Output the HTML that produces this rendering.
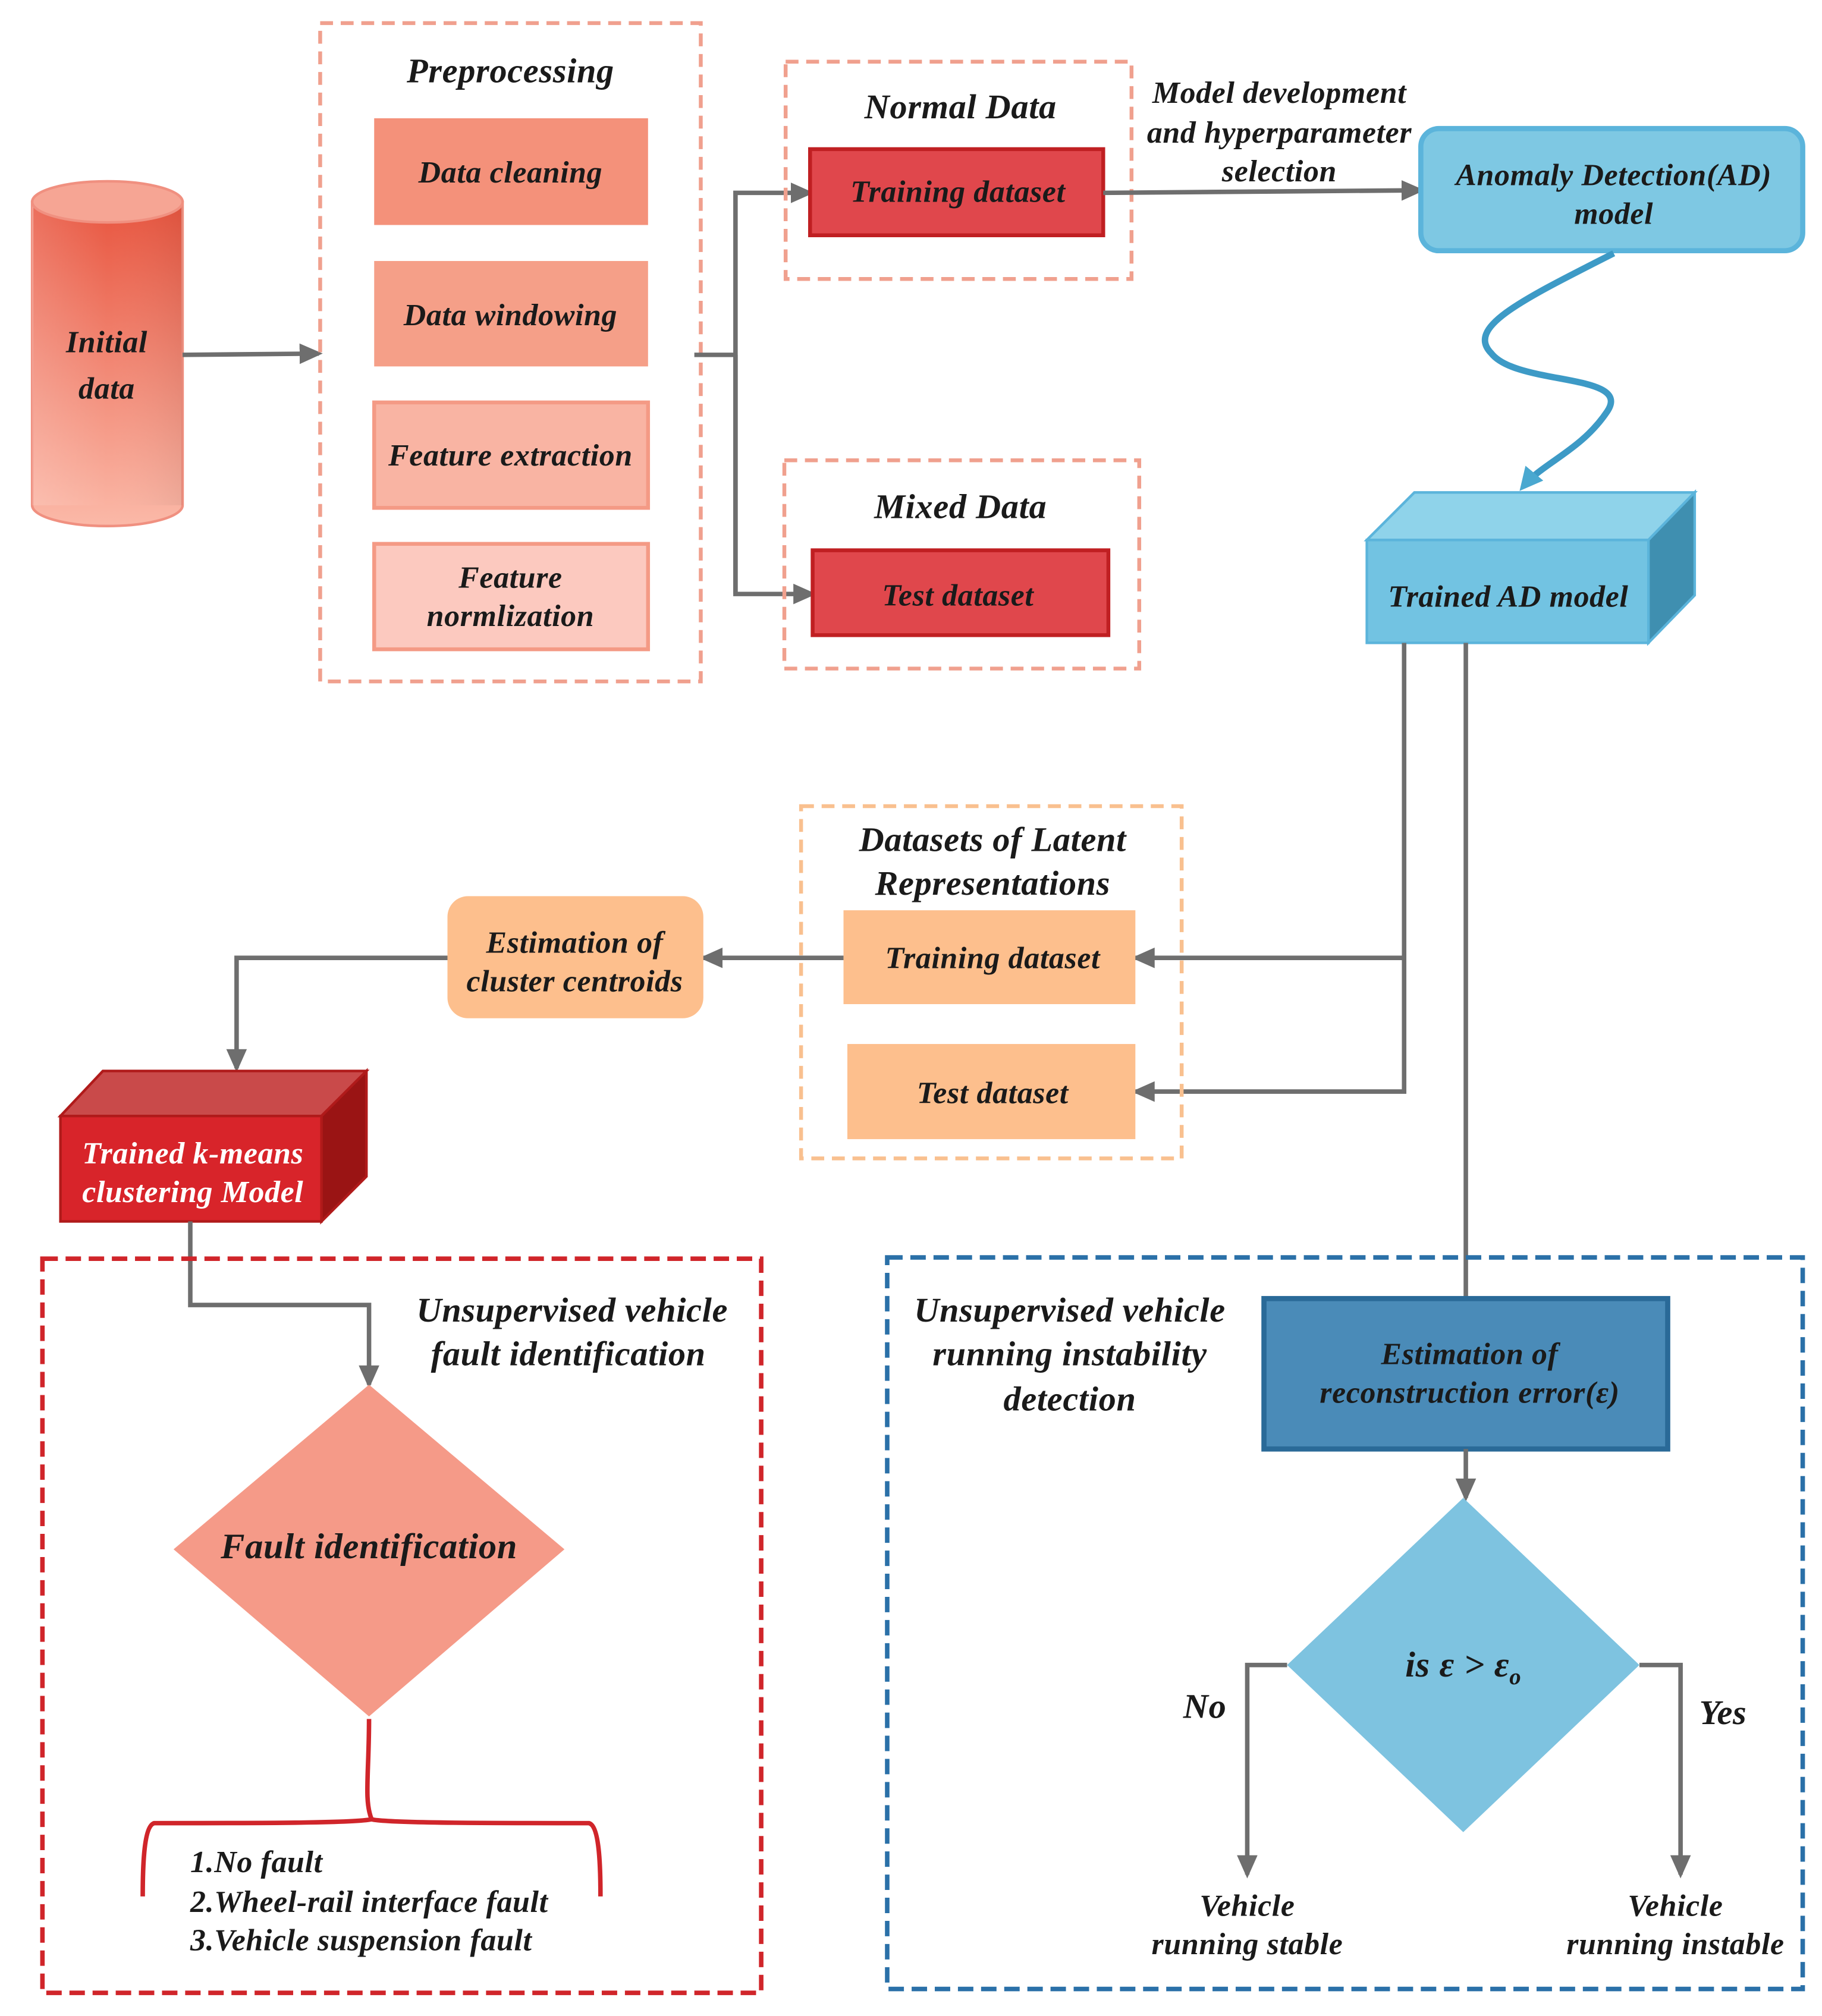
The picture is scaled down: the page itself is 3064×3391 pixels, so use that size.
<!DOCTYPE html>
<html><head><meta charset="utf-8"><style>
html,body{margin:0;padding:0;background:#fff;}
svg{display:block;}
text{font-family:"Liberation Serif",serif;font-weight:bold;font-style:italic;font-size:24px;fill:#1a1a1a;text-anchor:middle;letter-spacing:0.3px;}
</style></head><body>
<svg width="3064" height="3391" viewBox="0 0 1417 1568" preserveAspectRatio="none" xmlns="http://www.w3.org/2000/svg">
<defs>
<linearGradient id="cyl" x1="0" y1="0" x2="0" y2="1">
<stop offset="0" stop-color="#e8553f"/><stop offset="1" stop-color="#fbb9a8"/></linearGradient>
<linearGradient id="cylx" x1="0" y1="0" x2="1" y2="0">
<stop offset="0" stop-color="#fff" stop-opacity="0.15"/><stop offset="0.5" stop-color="#fff" stop-opacity="0"/><stop offset="1" stop-color="#000" stop-opacity="0.05"/></linearGradient>
<marker id="ar" markerWidth="18" markerHeight="16" refX="15" refY="8" orient="auto" markerUnits="userSpaceOnUse">
<path d="M0,0 L18,8 L0,16 z" fill="#6e6e6e"/></marker>
<marker id="arb" markerWidth="18" markerHeight="18" refX="13" refY="9" orient="auto" markerUnits="userSpaceOnUse">
<path d="M0,0 L18,9 L0,18 z" fill="#4aa8d0"/></marker>
</defs>

<path d="M25,157 L25,393 A58,16 0 0 0 142,393 L142,157 z" fill="url(#cyl)" stroke="#f09080" stroke-width="2"/>
<rect x="25" y="157" width="117" height="236" fill="url(#cylx)"/>
<ellipse cx="83.5" cy="157" rx="58.5" ry="16" fill="#f6a594" stroke="#f09080" stroke-width="2"/>
<text x="83" y="274">Initial</text><text x="83" y="310">data</text>
<line x1="142" y1="276" x2="248" y2="275" stroke="#6e6e6e" stroke-width="3.5" marker-end="url(#ar)"/>

<rect x="249" y="18" width="296" height="512" fill="none" stroke="#f0a08e" stroke-width="3" stroke-dasharray="10,6"/>
<text x="397" y="64" style="font-size:27px">Preprocessing</text>
<rect x="291" y="92" width="213" height="83" fill="#f4917a"/><text x="397" y="142">Data cleaning</text>
<rect x="291" y="203" width="213" height="82" fill="#f59f88"/><text x="397" y="253">Data windowing</text>
<rect x="291" y="313" width="213" height="82" fill="#f9b4a3" stroke="#f49a85" stroke-width="3"/><text x="397" y="362">Feature extraction</text>
<rect x="291" y="423" width="213" height="82" fill="#fcc9bf" stroke="#f49a85" stroke-width="3"/><text x="397" y="457">Feature</text><text x="397" y="487">normlization</text>

<path d="M540,276 L572,276" stroke="#6e6e6e" stroke-width="3.5" fill="none"/>
<path d="M572,462 L572,150 L630,150" stroke="#6e6e6e" stroke-width="3.5" fill="none" marker-end="url(#ar)"/>
<path d="M572,276 L572,462 L632,462" stroke="#6e6e6e" stroke-width="3.5" fill="none" marker-end="url(#ar)"/>

<rect x="611" y="48" width="269" height="169" fill="none" stroke="#f0a08e" stroke-width="3" stroke-dasharray="10,6"/>
<text x="747" y="92" style="font-size:27px">Normal Data</text>
<rect x="630" y="116" width="228" height="67" fill="#e0474c" stroke="#c01f22" stroke-width="3"/><text x="745" y="157">Training dataset</text>

<rect x="610" y="358" width="276" height="162" fill="none" stroke="#f0a08e" stroke-width="3" stroke-dasharray="10,6"/>
<text x="747" y="403" style="font-size:27px">Mixed Data</text>
<rect x="632" y="428" width="230" height="66" fill="#e0474c" stroke="#c01f22" stroke-width="3"/><text x="745" y="471">Test dataset</text>

<line x1="858" y1="150" x2="1105" y2="148" stroke="#6e6e6e" stroke-width="3.5" marker-end="url(#ar)"/>
<text x="995" y="80">Model development</text><text x="995" y="111">and hyperparameter</text><text x="995" y="141">selection</text>

<rect x="1105" y="100" width="297" height="95" rx="14" fill="#7ec8e3" stroke="#5bb4db" stroke-width="4"/>
<text x="1255" y="144">Anomaly Detection(AD)</text><text x="1255" y="174">model</text>

<path d="M1255,197 C1180,235 1140,255 1160,275 C1180,300 1270,290 1250,320 C1230,350 1200,360 1185,378" stroke="#3d9ac6" stroke-width="5" fill="none" marker-end="url(#arb)"/>

<polygon points="1063,420 1100,383 1318,383 1282,420" fill="#8fd3ea" stroke="#5bb4db" stroke-width="2"/>
<polygon points="1282,420 1318,383 1318,463 1282,500" fill="#3f8fb0" stroke="#5bb4db" stroke-width="2"/>
<rect x="1063" y="420" width="219" height="80" fill="#72c3e2" stroke="#5bb4db" stroke-width="2"/>
<text x="1173" y="472">Trained AD model</text>

<path d="M1092,500 L1092,849 L883,849" stroke="#6e6e6e" stroke-width="3.5" fill="none" marker-end="url(#ar)"/>
<path d="M1092,745 L883,745" stroke="#6e6e6e" stroke-width="3.5" fill="none" marker-end="url(#ar)"/>
<path d="M1140,500 L1140,1010" stroke="#6e6e6e" stroke-width="3.5" fill="none"/>

<rect x="623" y="627" width="296" height="274" fill="none" stroke="#f9c08f" stroke-width="3" stroke-dasharray="10,6"/>
<text x="772" y="662" style="font-size:27px">Datasets of Latent</text><text x="772" y="696" style="font-size:27px">Representations</text>
<rect x="656" y="708" width="227" height="73" fill="#fdbf8d"/><text x="772" y="753">Training dataset</text>
<rect x="659" y="812" width="224" height="74" fill="#fdbf8d"/><text x="772" y="858">Test dataset</text>

<line x1="656" y1="745" x2="547" y2="745" stroke="#6e6e6e" stroke-width="3.5" marker-end="url(#ar)"/>
<rect x="348" y="697" width="199" height="95" rx="16" fill="#fdbf8d"/>
<text x="447" y="741">Estimation of</text><text x="447" y="771">cluster centroids</text>

<path d="M348,745 L184,745 L184,831" stroke="#6e6e6e" stroke-width="3.5" fill="none" marker-end="url(#ar)"/>

<polygon points="47,868 80,833 285,833 250,868" fill="#c94a4a" stroke="#b01a1a" stroke-width="2"/>
<polygon points="250,868 285,833 285,915 250,950" fill="#9a1414" stroke="#b01a1a" stroke-width="2"/>
<rect x="47" y="868" width="203" height="82" fill="#d8242a" stroke="#b01a1a" stroke-width="2"/>
<text x="150" y="905" style="fill:#fff">Trained k-means</text><text x="150" y="935" style="fill:#fff">clustering Model</text>

<path d="M148,950 L148,1015 L287,1015 L287,1077" stroke="#6e6e6e" stroke-width="3.5" fill="none" marker-end="url(#ar)"/>

<rect x="33" y="979" width="559" height="571" fill="none" stroke="#d0252a" stroke-width="3.5" stroke-dasharray="12,6"/>
<text x="445" y="1028" style="font-size:27px">Unsupervised vehicle</text><text x="442" y="1062" style="font-size:27px">fault identification</text>
<polygon points="287,1077 439,1205 287,1335 135,1205" fill="#f59a88"/>
<text x="287" y="1212" style="font-size:28px">Fault identification</text>
<path d="M287,1337 C287,1380 283,1400 289,1415 C276,1418 200,1418 120,1418 C112,1420 111,1450 111,1475 M289,1415 C300,1418 380,1418 458,1418 C466,1420 467,1450 467,1475" stroke="#d0252a" stroke-width="3.5" fill="none"/>
<text x="148" y="1456" style="text-anchor:start">1.No fault</text>
<text x="148" y="1487" style="text-anchor:start">2.Wheel-rail interface fault</text>
<text x="148" y="1517" style="text-anchor:start">3.Vehicle suspension fault</text>

<rect x="690" y="978" width="712" height="569" fill="none" stroke="#2a70a8" stroke-width="3.5" stroke-dasharray="12,6"/>
<text x="832" y="1028" style="font-size:27px">Unsupervised vehicle</text><text x="832" y="1062" style="font-size:27px">running instability</text><text x="832" y="1097" style="font-size:27px">detection</text>
<rect x="983" y="1010" width="314" height="117" fill="#4a8bb8" stroke="#2a6a98" stroke-width="4"/>
<text x="1143" y="1061">Estimation of</text><text x="1143" y="1091">reconstruction error(ε)</text>
<line x1="1140" y1="1127" x2="1140" y2="1165" stroke="#6e6e6e" stroke-width="3.5" marker-end="url(#ar)"/>
<polygon points="1138,1165 1275,1295 1138,1425 1001,1295" fill="#7ec3e0"/>
<text x="1138" y="1304" style="font-size:28px">is ε &gt; ε<tspan font-size="18" dy="6">o</tspan></text>
<path d="M1001,1295 L970,1295 L970,1458" stroke="#6e6e6e" stroke-width="3.5" fill="none" marker-end="url(#ar)"/>
<path d="M1275,1295 L1307,1295 L1307,1458" stroke="#6e6e6e" stroke-width="3.5" fill="none" marker-end="url(#ar)"/>
<text x="937" y="1336" style="font-size:27px">No</text>
<text x="1340" y="1341" style="font-size:27px">Yes</text>
<text x="970" y="1490">Vehicle</text><text x="970" y="1520">running stable</text>
<text x="1303" y="1490">Vehicle</text><text x="1303" y="1520">running instable</text>
</svg>
</body></html>
